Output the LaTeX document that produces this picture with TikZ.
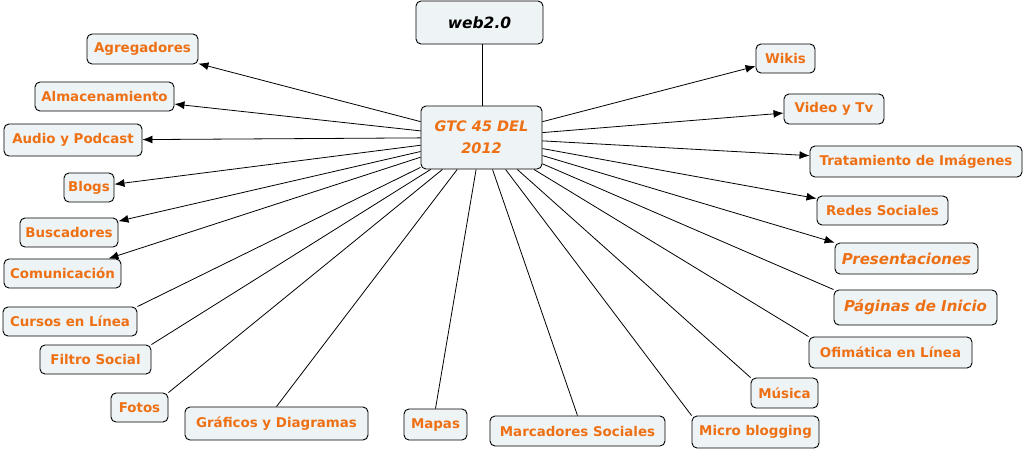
\documentclass[tikz,border=0pt]{standalone}
\usepackage{fontspec}
\setmainfont{DejaVu Sans}
\usetikzlibrary{arrows.meta}
\definecolor{txtorange}{RGB}{238,112,20}
\definecolor{boxfill}{RGB}{238,243,245}
\tikzset{
  box/.style={draw=black, line width=0.9pt, rounded corners=5pt, fill=boxfill,
    text=txtorange, font=\fontsize{13.4}{15}\selectfont\bfseries, inner sep=2pt, align=center},
  bigital/.style={font=\fontsize{15}{17}\selectfont\bfseries\itshape},
  link/.style={draw=black, line width=0.8pt},
  arr/.style={link, -{Latex[length=10pt,width=8pt]}}
}
\begin{document}
\begin{tikzpicture}[x=1pt,y=1pt]
\useasboundingbox[fill=white] (0,0) rectangle (1028,-451);
% central and top
\node[box, text=black, font=\fontsize{15.5}{17}\selectfont\bfseries\itshape, minimum width=127, minimum height=43] (web) at (479.5,-22.5) {web2.0};
\node[box, font=\fontsize{14.5}{22}\selectfont\bfseries\itshape, minimum width=121, minimum height=63] (gtc) at (481.5,-137.5) {GTC 45 DEL\\2012};
% left column
\node[box, minimum width=111, minimum height=30] (agr) at (142.5,-49) {Agregadores};
\node[box, minimum width=139, minimum height=29] (alm) at (104.5,-96.5) {Almacenamiento};
\node[box, minimum width=138, minimum height=32] (aud) at (73,-140) {Audio y Podcast};
\node[box, minimum width=50, minimum height=29] (blo) at (89,-187.5) {Blogs};
\node[box, minimum width=98, minimum height=29] (bus) at (69,-232.5) {Buscadores};
\node[box, minimum width=117, minimum height=29] (com) at (62.5,-273.5) {Comunicación};
\node[box, minimum width=134, minimum height=29] (cur) at (70,-321.5) {Cursos en Línea};
\node[box, minimum width=111, minimum height=29] (fil) at (95.5,-359.5) {Filtro Social};
\node[box, minimum width=57, minimum height=29] (fot) at (139.5,-407.5) {Fotos};
% bottom
\node[box, minimum width=183, minimum height=33] (gra) at (276.5,-423.5) {Gráficos y Diagramas};
\node[box, minimum width=63, minimum height=31] (map) at (435.5,-424.5) {Mapas};
\node[box, minimum width=175, minimum height=30] (mar) at (577.5,-431) {Marcadores Sociales};
\node[box, minimum width=127, minimum height=32] (mic) at (755.5,-432) {Micro blogging};
\node[box, minimum width=67, minimum height=30] (mus) at (784.5,-393) {Música};
% right column
\node[box, minimum width=163, minimum height=31] (ofi) at (890.5,-352.5) {Ofimática en Línea};
\node[box, bigital, minimum width=163, minimum height=35] (pag) at (915.5,-307.5) {Páginas de Inicio};
\node[box, bigital, minimum width=143, minimum height=31] (pre) at (906.5,-258.5) {Presentaciones};
\node[box, minimum width=131, minimum height=29] (red) at (882.5,-210.5) {Redes Sociales};
\node[box, minimum width=212, minimum height=31] (tra) at (916,-161.5) {Tratamiento de Imágenes};
\node[box, minimum width=100, minimum height=30] (vid) at (834,-109) {Video y Tv};
\node[box, minimum width=59, minimum height=29] (wik) at (785.5,-58.5) {Wikis};
% connectors
\draw[link] (gtc.north) ++(1,0) coordinate (gtctop) -- (web.south -| gtctop);
\draw[arr] (gtc) -- (agr);
\draw[arr] (gtc) -- (alm);
\draw[arr] (gtc) -- (aud);
\draw[arr] (gtc) -- (blo);
\draw[arr] (gtc) -- (bus);
\draw[arr] (gtc) -- (com);
\draw[link] (gtc) -- (cur.north east);
\draw[link] (gtc) -- (fil.north east);
\draw[link] (gtc) -- (fot.north east);
\draw[link] (gtc) -- (gra.north);
\draw[link] (gtc) -- (map.north);
\draw[link] (gtc) -- (mar.north);
\draw[link] (gtc) -- (mic.north west);
\draw[link] (gtc) -- (mus.north west);
\draw[link] (gtc) -- (ofi.north west);
\draw[link] (gtc) -- (pag.north west);
\draw[arr] (gtc) -- (pre.north west);
\draw[arr] (gtc) -- (red);
\draw[arr] (gtc) -- (tra);
\draw[arr] (gtc) -- (vid);
\draw[arr] (gtc) -- (wik);
\end{tikzpicture}
\end{document}
